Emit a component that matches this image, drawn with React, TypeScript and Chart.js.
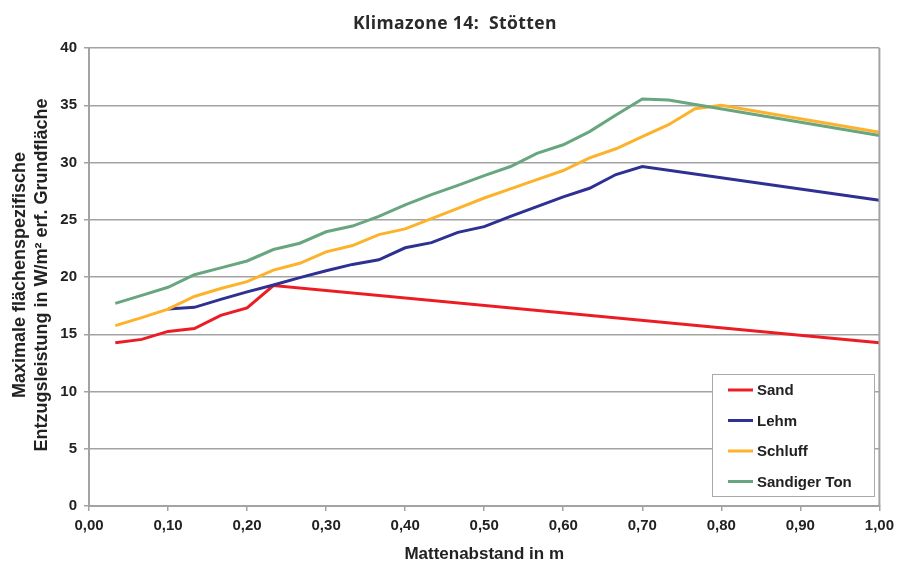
import React, { useEffect, useRef } from "react";
import { Chart, registerables } from "chart.js";

Chart.register(...registerables);

const seriesNames = ["Sand", "Lehm", "Schluff", "Sandiger Ton"];
const seriesColors = ["#ec1c24", "#2e3192", "#fdb22b", "#68a67f"];

const sandX = [0.0333, 0.0667, 0.1, 0.1333, 0.1667, 0.2, 0.2333, 1.0];
const sandY = [14.25, 14.55, 15.25, 15.5, 16.65, 17.3, 19.25, 14.25];

const lehmX = [0.1, 0.1333, 0.1667, 0.2, 0.2333, 0.2667, 0.3, 0.3333, 0.3667, 0.4, 0.4333, 0.4667, 0.5, 0.5333, 0.5667, 0.6, 0.6333, 0.6667, 0.7, 1.0];
const lehmY = [17.2, 17.35, 18.05, 18.7, 19.3, 19.95, 20.55, 21.1, 21.5, 22.55, 23.0, 23.9, 24.4, 25.3, 26.15, 27.0, 27.75, 28.95, 29.65, 26.7];

const schluffX = [0.0333, 0.0667, 0.1, 0.1333, 0.1667, 0.2, 0.2333, 0.2667, 0.3, 0.3333, 0.3667, 0.4, 0.4333, 0.4667, 0.5, 0.5333, 0.5667, 0.6, 0.6333, 0.6667, 0.7, 0.7333, 0.7667, 0.8, 1.0];
const schluffY = [15.75, 16.45, 17.2, 18.3, 19.0, 19.6, 20.6, 21.2, 22.2, 22.75, 23.7, 24.2, 25.1, 26.0, 26.9, 27.7, 28.5, 29.3, 30.4, 31.2, 32.25, 33.3, 34.7, 35.0, 32.65];

const tonX = [0.0333, 0.0667, 0.1, 0.1333, 0.1667, 0.2, 0.2333, 0.2667, 0.3, 0.3333, 0.3667, 0.4, 0.4333, 0.4667, 0.5, 0.5333, 0.5667, 0.6, 0.6333, 0.6667, 0.7, 0.7333, 1.0];
const tonY = [17.7, 18.4, 19.1, 20.2, 20.8, 21.4, 22.4, 22.95, 23.95, 24.45, 25.3, 26.3, 27.2, 28.0, 28.85, 29.65, 30.8, 31.55, 32.7, 34.15, 35.55, 35.45, 32.35];

const chartTitle = "Klimazone 14:  Stötten";
const xTitle = "Mattenabstand in m";
const yTitleLines = ["Maximale flächenspezifische", "Entzugsleistung in W/m² erf. Grundfläche"];

const xMin = 0, xMax = 1, xStep = 0.1;
const yMin = 0, yMax = 40, yStep = 5;

const toPoints = (xs: number[], ys: number[]) => xs.map((x, i) => ({ x, y: ys[i] }));

const FONT = "'Liberation Sans', Arial, sans-serif";
const GRID = "#a3a3a3";

const decorPlugin = {
  id: "decor",
  afterDraw(chart: any) {
    const { ctx, chartArea } = chart;
    ctx.save();
    // right border
    ctx.strokeStyle = GRID;
    ctx.lineWidth = 2;
    ctx.beginPath();
    ctx.moveTo(chartArea.right, chartArea.top);
    ctx.lineTo(chartArea.right, chartArea.bottom);
    ctx.stroke();

    // main title
    ctx.fillStyle = "#2a2a2a";
    ctx.font = "bold 17.5px 'Open Sans', sans-serif";
    try { (ctx as any).letterSpacing = "0.4px"; } catch (e) {}
    ctx.textAlign = "left";
    ctx.textBaseline = "alphabetic";
    ctx.fillText(chartTitle, 353, 29);
    try { (ctx as any).letterSpacing = "0px"; } catch (e) {}

    // x title
    ctx.fillStyle = "#222";
    ctx.font = `bold 17px ${FONT}`;
    ctx.textAlign = "center";
    ctx.fillText(xTitle, (chartArea.left + chartArea.right) / 2, 559);

    // y title
    ctx.font = `bold 18px ${FONT}`;
    const cy = 275;
    const baselines = [25, 47];
    yTitleLines.forEach((t, i) => {
      ctx.save();
      ctx.translate(baselines[i], cy);
      ctx.rotate(-Math.PI / 2);
      ctx.textAlign = "center";
      ctx.textBaseline = "alphabetic";
      ctx.fillText(t, 0, 0);
      ctx.restore();
    });

    // legend
    const bx = 712.5, by = 374.5, bw = 162, bh = 122;
    ctx.fillStyle = "#ffffff";
    ctx.fillRect(bx, by, bw, bh);
    ctx.strokeStyle = "#aaaaaa";
    ctx.lineWidth = 1;
    ctx.strokeRect(bx, by, bw, bh);
    const rows = [390, 420.5, 451, 481.5];
    ctx.font = `bold 15px ${FONT}`;
    ctx.textAlign = "left";
    ctx.textBaseline = "middle";
    chart.data.datasets.forEach((ds: any, i: number) => {
      const y = rows[i];
      ctx.strokeStyle = ds.borderColor;
      ctx.lineWidth = 3;
      ctx.beginPath();
      ctx.moveTo(728, y);
      ctx.lineTo(753, y);
      ctx.stroke();
      ctx.fillStyle = "#222";
      ctx.fillText(ds.label, 757, y + 1);
    });
    ctx.restore();
  },
};

export default function App() {
  const ref = useRef<HTMLCanvasElement | null>(null);

  useEffect(() => {
    if (!ref.current) return;
    const datasets = [
      toPoints(sandX, sandY),
      toPoints(lehmX, lehmY),
      toPoints(schluffX, schluffY),
      toPoints(tonX, tonY),
    ].map((data, i) => ({
      label: seriesNames[i],
      data,
      borderColor: seriesColors[i],
      backgroundColor: seriesColors[i],
      borderWidth: 3,
      pointRadius: 0,
      pointHoverRadius: 0,
      tension: 0,
      fill: false,
      order: 4 - i,
    }));

    const tickFont = { family: FONT, size: 15, weight: "bold" as const };

    const chart = new Chart(ref.current, {
      type: "line",
      data: { datasets },
      options: {
        animation: false,
        responsive: false,
        devicePixelRatio: 1,
        layout: { padding: { top: 48, right: 20, left: 0, bottom: 0 } },
        plugins: {
          legend: { display: false },
          title: { display: false },
          tooltip: { enabled: false },
        },
        scales: {
          x: {
            type: "linear",
            min: xMin,
            max: xMax,
            ticks: {
              stepSize: xStep,
              autoSkip: false,
              maxRotation: 0,
              padding: 6,
              color: "#222",
              font: tickFont,
              callback: (v: any) => Number(v).toFixed(2).replace(".", ","),
            },
            grid: { drawOnChartArea: false, drawTicks: true, tickLength: 5, color: GRID, lineWidth: 1.5 },
            border: { color: GRID, width: 2 },
            afterFit: (s: any) => {
              s.height = 66;
            },
          },
          y: {
            type: "linear",
            min: yMin,
            max: yMax,
            ticks: { stepSize: yStep, padding: 7, color: "#222", font: tickFont },
            grid: { drawTicks: true, tickLength: 5, color: GRID, lineWidth: 1.5 },
            border: { color: GRID, width: 2 },
            afterFit: (s: any) => {
              s.width = 89;
            },
          },
        },
      },
      plugins: [decorPlugin],
    });
    return () => chart.destroy();
  }, []);

  return (
    <div style={{ position: "absolute", left: 0, top: 0, width: 900, height: 572, background: "#fff" }}>
      <canvas ref={ref} width={900} height={572} style={{ display: "block" }} />
    </div>
  );
}
